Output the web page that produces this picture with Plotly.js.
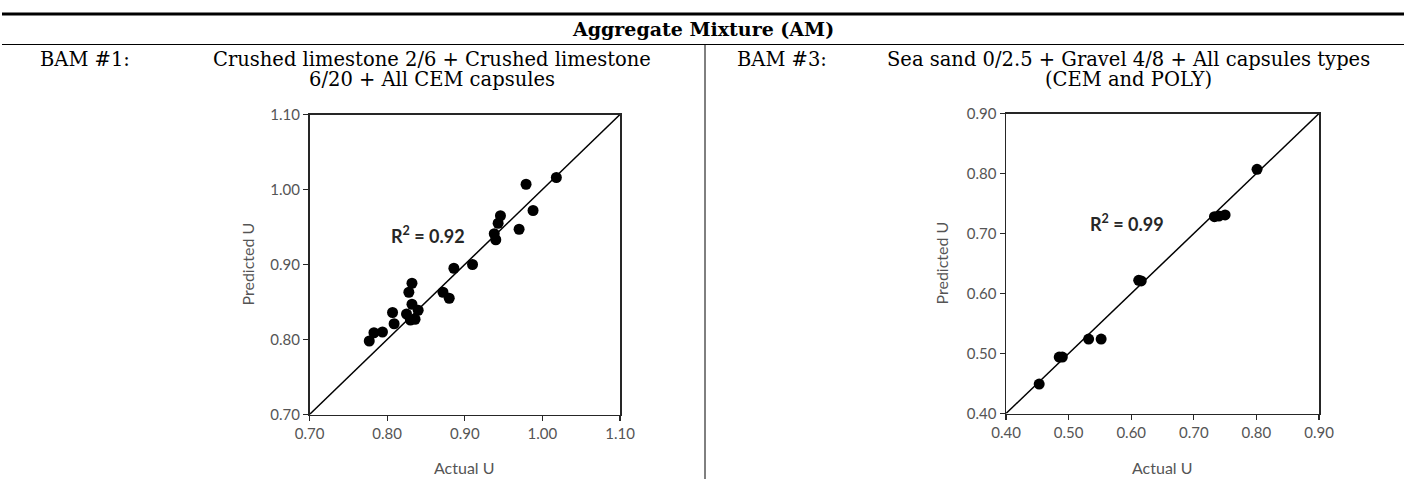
<!DOCTYPE html>
<html>
<head>
<meta charset="utf-8">
<script src="https://cdn.plot.ly/plotly-3.0.1.min.js"></script>
<style>html,body{margin:0;padding:0;background:#fff;}#chart{width:1406px;height:479px;}</style>
</head>
<body>
<div id="chart"></div>
<script>
// BAM #1 data
const bam1Actual = [0.777, 0.783, 0.794, 0.807, 0.809, 0.825, 0.830, 0.836, 0.840, 0.832, 0.828, 0.832, 0.872, 0.880, 0.886, 0.910, 0.938, 0.940, 0.943, 0.946, 0.970, 0.979, 0.988, 1.018];
const bam1Predicted = [0.798, 0.809, 0.810, 0.836, 0.821, 0.834, 0.826, 0.827, 0.839, 0.847, 0.863, 0.875, 0.863, 0.855, 0.895, 0.900, 0.941, 0.933, 0.955, 0.965, 0.947, 1.007, 0.972, 1.016];
// BAM #3 data
const bam3Actual = [0.453, 0.485, 0.490, 0.532, 0.552, 0.612, 0.616, 0.733, 0.740, 0.750, 0.801];
const bam3Predicted = [0.449, 0.494, 0.494, 0.524, 0.524, 0.622, 0.621, 0.728, 0.729, 0.731, 0.807];

const bam1Range = [0.70, 1.10];
const bam3Range = [0.40, 0.90];
const bam1Ticks = [0.70, 0.80, 0.90, 1.00, 1.10];
const bam3Ticks = [0.40, 0.50, 0.60, 0.70, 0.80, 0.90];
const bam1R2 = "R<sup>2</sup> = 0.92";
const bam3R2 = "R<sup>2</sup> = 0.99";

const headerTitle = "Aggregate Mixture (AM)";
const bam1Label = "BAM #1:";
const bam1Desc = ["Crushed limestone 2/6 + Crushed limestone", "6/20 + All CEM capsules"];
const bam3Label = "BAM #3:";
const bam3Desc = ["Sea sand 0/2.5 + Gravel 4/8 + All capsules types", "(CEM and POLY)"];
const xTitle = "Actual U";
const yTitle = "Predicted U";

const W = 1406, H = 479;
const px = v => v / W;
const py = v => 1 - v / H;

const markerStyle = {color: '#000', size: 11};
const traces = [
  {x: bam1Range, y: bam1Range, mode: 'lines', line: {color: '#000', width: 1.5}, xaxis: 'x', yaxis: 'y', hoverinfo: 'skip'},
  {x: bam1Actual, y: bam1Predicted, mode: 'markers', marker: markerStyle, xaxis: 'x', yaxis: 'y'},
  {x: bam3Range, y: bam3Range, mode: 'lines', line: {color: '#000', width: 1.5}, xaxis: 'x2', yaxis: 'y2', hoverinfo: 'skip'},
  {x: bam3Actual, y: bam3Predicted, mode: 'markers', marker: markerStyle, xaxis: 'x2', yaxis: 'y2'}
];

const tickFont = {family: 'Lato, sans-serif', size: 15, color: '#555555'};
function axis(range, ticks, domain, anchor) {
  return {
    range: range, domain: domain, anchor: anchor,
    tickmode: 'array', tickvals: ticks, ticktext: ticks.map(t => t.toFixed(2)),
    showgrid: false, zeroline: false,
    showline: true, linecolor: '#262626', linewidth: 1.5, mirror: true,
    ticks: 'outside', ticklen: 5, tickcolor: '#262626', tickwidth: 1.2,
    tickfont: tickFont, fixedrange: true
  };
}

const serif = {family: '"DejaVu Serif", serif', size: 19.5, color: '#000'};
const serifBold = {family: '"DejaVu Serif", serif', size: 19, color: '#000'};
const axTitleFont = {family: 'Lato, sans-serif', size: 16, color: '#555555'};
const r2Font = {family: 'Lato, sans-serif', size: 18, color: '#262626'};

const L1 = [309.5, 620], T1 = [114.5, 414.5];
const L2 = [1006, 1319], T2 = [113.5, 413.5];

function paperText(text, x, y, font, extra) {
  return Object.assign({text: text, x: px(x), y: py(y), xref: 'paper', yref: 'paper', showarrow: false, font: font, xanchor: 'center', yanchor: 'middle'}, extra || {});
}

const annotations = [
  paperText('<b>' + headerTitle + '</b>', 703, 29, serifBold),
  paperText(bam1Label, 85, 59, serif),
  paperText(bam1Desc[0], 432, 59, serif),
  paperText(bam1Desc[1], 432, 79, serif),
  paperText(bam3Label, 782, 59, serif),
  paperText(bam3Desc[0], 1128, 59, serif),
  paperText(bam3Desc[1], 1128, 79, serif),
  paperText(xTitle, (L1[0]+L1[1])/2, 467, axTitleFont),
  paperText(yTitle, 247, (T1[0]+T1[1])/2, axTitleFont, {textangle: -90}),
  paperText(xTitle, (L2[0]+L2[1])/2, 467, axTitleFont),
  paperText(yTitle, 941, (T2[0]+T2[1])/2, axTitleFont, {textangle: -90}),
  {text: '<b>' + bam1R2 + '</b>', x: 0.853, y: 0.940, xref: 'x', yref: 'y', showarrow: false, font: r2Font},
  {text: '<b>' + bam3R2 + '</b>', x: 0.594, y: 0.717, xref: 'x2', yref: 'y2', showarrow: false, font: r2Font}
];

const shapes = [
  {type: 'line', xref: 'paper', yref: 'paper', x0: px(2), x1: px(1404), y0: py(14), y1: py(14), line: {color: '#000', width: 3}},
  {type: 'line', xref: 'paper', yref: 'paper', x0: px(2), x1: px(1404), y0: py(44.5), y1: py(44.5), line: {color: '#000', width: 1}},
  {type: 'line', xref: 'paper', yref: 'paper', x0: px(705), x1: px(705), y0: py(44.5), y1: py(479), line: {color: '#000', width: 1}}
];

const layout = {
  width: W, height: H,
  margin: {l: 0, r: 0, t: 0, b: 0},
  paper_bgcolor: '#fff', plot_bgcolor: '#fff',
  showlegend: false,
  xaxis: axis(bam1Range, bam1Ticks, [px(L1[0]), px(L1[1])], 'y'),
  yaxis: axis(bam1Range, bam1Ticks, [py(T1[1]), py(T1[0])], 'x'),
  xaxis2: axis(bam3Range, bam3Ticks, [px(L2[0]), px(L2[1])], 'y2'),
  yaxis2: axis(bam3Range, bam3Ticks, [py(T2[1]), py(T2[0])], 'x2'),
  annotations: annotations,
  shapes: shapes
};

Plotly.newPlot('chart', traces, layout, {displayModeBar: false, staticPlot: true});
</script>
</body>
</html>
